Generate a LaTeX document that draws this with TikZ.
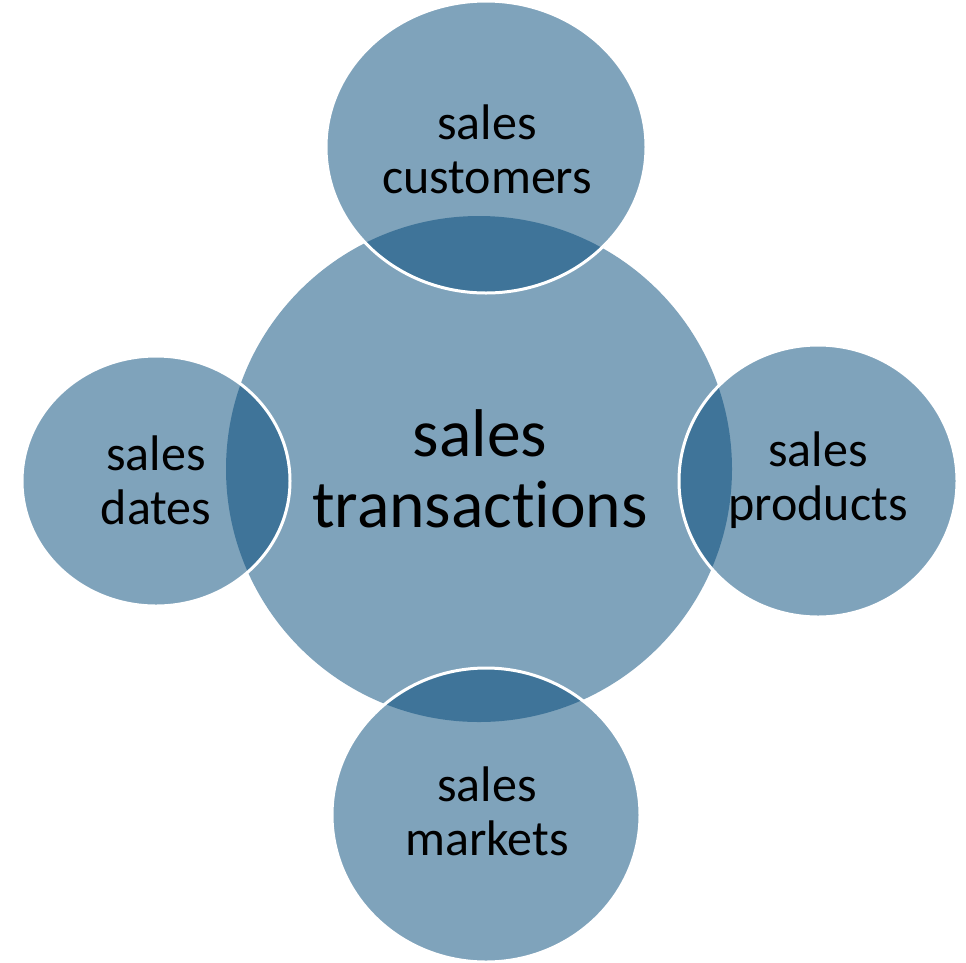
\documentclass[tikz,border=0pt]{standalone}
\usepackage{fontspec}
\setmainfont{Carlito}[Ligatures=NoCommon]
\definecolor{base}{RGB}{0,71,119}
\begin{document}
\begin{tikzpicture}[x=1pt,y=-1pt,
  blob/.style={fill=base,fill opacity=0.5,draw=white,line width=3pt,draw opacity=1},
  hub/.style={fill=base,fill opacity=0.5},
  lbl/.style={align=center,font=\fontsize{50}{54}\selectfont,text=black,inner sep=0pt},
  biglbl/.style={align=center,font=\fontsize{67.5}{71}\selectfont,text=black,inner sep=0pt}]
\useasboundingbox (0,0) rectangle (966,962);
\fill[hub] (479,469) circle (253);
\path[blob] (486,147) ellipse (160 and 146);
\path[blob] (156,481) ellipse (134 and 125);
\path[blob] (818,481) ellipse (139 and 136);
\path[blob] (486,815) ellipse (154 and 147);
\node[biglbl] (c) at (480,469) {sales\\transactions};
\node[lbl] (t) at (487,149) {sales\\customers};
\node[lbl] (l) at (156,480) {sales\\dates};
\node[lbl] (r) at (818,480) {sales\\products};
\node[lbl] (b) at (487,811) {sales\\markets};
\end{tikzpicture}
\end{document}
